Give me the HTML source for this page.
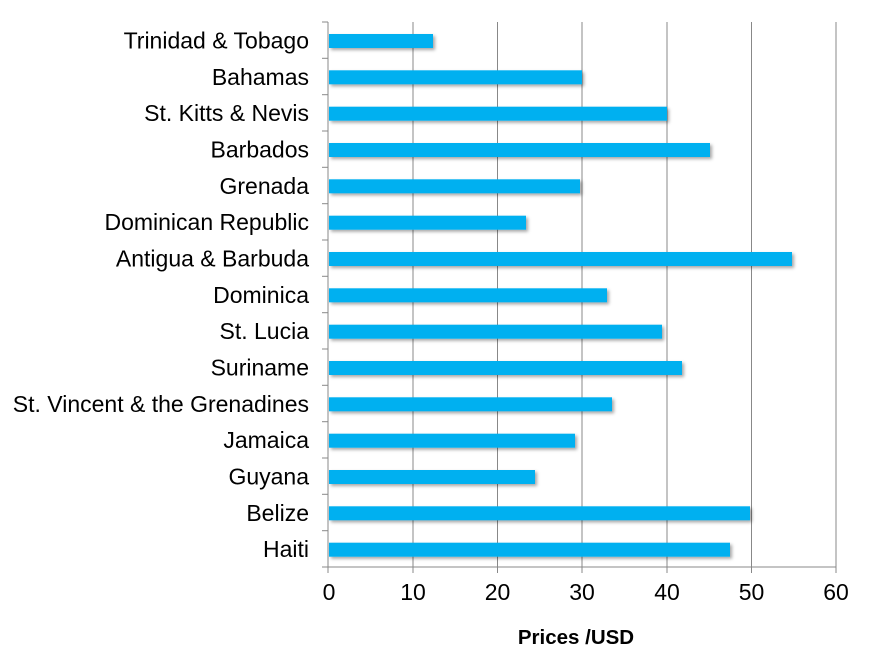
<!DOCTYPE html>
<html><head><style>
body{margin:0;background:#fff;}
svg text{font-family:"Liberation Sans",Arial,sans-serif;}
</style></head><body>
<svg width="872" height="662" xmlns="http://www.w3.org/2000/svg">
<defs><filter id="sh" x="-5%" y="-30%" width="110%" height="180%"><feDropShadow dx="2" dy="2" stdDeviation="1.5" flood-color="#000" flood-opacity="0.35"/></filter></defs>
<g stroke="#888" stroke-width="1">
<line x1="413" y1="22" x2="413" y2="567"/>
<line x1="497.5" y1="22" x2="497.5" y2="567"/>
<line x1="582" y1="22" x2="582" y2="567"/>
<line x1="667" y1="22" x2="667" y2="567"/>
<line x1="751.5" y1="22" x2="751.5" y2="567"/>
<line x1="836" y1="22" x2="836" y2="567"/>
<line x1="328" y1="22" x2="328" y2="573"/>
<line x1="322" y1="567" x2="836" y2="567"/>
</g>
<g stroke="#888">
<line x1="322" y1="22" x2="328" y2="22"/><line x1="322" y1="58.3" x2="328" y2="58.3"/><line x1="322" y1="94.7" x2="328" y2="94.7"/><line x1="322" y1="131" x2="328" y2="131"/><line x1="322" y1="167.3" x2="328" y2="167.3"/><line x1="322" y1="203.7" x2="328" y2="203.7"/><line x1="322" y1="240" x2="328" y2="240"/><line x1="322" y1="276.3" x2="328" y2="276.3"/><line x1="322" y1="312.7" x2="328" y2="312.7"/><line x1="322" y1="349" x2="328" y2="349"/><line x1="322" y1="385.3" x2="328" y2="385.3"/><line x1="322" y1="421.7" x2="328" y2="421.7"/><line x1="322" y1="458" x2="328" y2="458"/><line x1="322" y1="494.3" x2="328" y2="494.3"/><line x1="322" y1="530.7" x2="328" y2="530.7"/>
<line x1="413" y1="567" x2="413" y2="573"/><line x1="497.5" y1="567" x2="497.5" y2="573"/><line x1="582" y1="567" x2="582" y2="573"/><line x1="667" y1="567" x2="667" y2="573"/><line x1="751.5" y1="567" x2="751.5" y2="573"/><line x1="836" y1="567" x2="836" y2="573"/>
</g>
<g fill="#00b0f0" filter="url(#sh)">
<rect x="329" y="34" width="104" height="14"/>
<rect x="329" y="70.3" width="253" height="14"/>
<rect x="329" y="106.7" width="338" height="14"/>
<rect x="329" y="143" width="381" height="14"/>
<rect x="329" y="179.3" width="251" height="14"/>
<rect x="329" y="215.7" width="197" height="14"/>
<rect x="329" y="252" width="463" height="14"/>
<rect x="329" y="288.3" width="278" height="14"/>
<rect x="329" y="324.7" width="333" height="14"/>
<rect x="329" y="361" width="353" height="14"/>
<rect x="329" y="397.3" width="283" height="14"/>
<rect x="329" y="433.7" width="246" height="14"/>
<rect x="329" y="470" width="206" height="14"/>
<rect x="329" y="506.3" width="421" height="14"/>
<rect x="329" y="542.7" width="401" height="14"/>
</g>
<g font-size="23" text-anchor="end" fill="#000">
<text x="309" y="48.5">Trinidad &amp; Tobago</text>
<text x="309" y="84.8">Bahamas</text>
<text x="309" y="121.2">St. Kitts &amp; Nevis</text>
<text x="309" y="157.5">Barbados</text>
<text x="309" y="193.8">Grenada</text>
<text x="309" y="230.2">Dominican Republic</text>
<text x="309" y="266.5">Antigua &amp; Barbuda</text>
<text x="309" y="302.8">Dominica</text>
<text x="309" y="339.2">St. Lucia</text>
<text x="309" y="375.5">Suriname</text>
<text x="309" y="411.8">St. Vincent &amp; the Grenadines</text>
<text x="309" y="448.2">Jamaica</text>
<text x="309" y="484.5">Guyana</text>
<text x="309" y="520.8">Belize</text>
<text x="309" y="557.2">Haiti</text>
</g>
<g font-size="23" text-anchor="middle" fill="#000">
<text x="329" y="600">0</text><text x="413" y="600">10</text><text x="497.5" y="600">20</text><text x="582" y="600">30</text><text x="667" y="600">40</text><text x="751.5" y="600">50</text><text x="836" y="600">60</text>
</g>
<text x="576" y="644" font-size="20.5" font-weight="bold" text-anchor="middle">Prices /USD</text>
</svg>
</body></html>
